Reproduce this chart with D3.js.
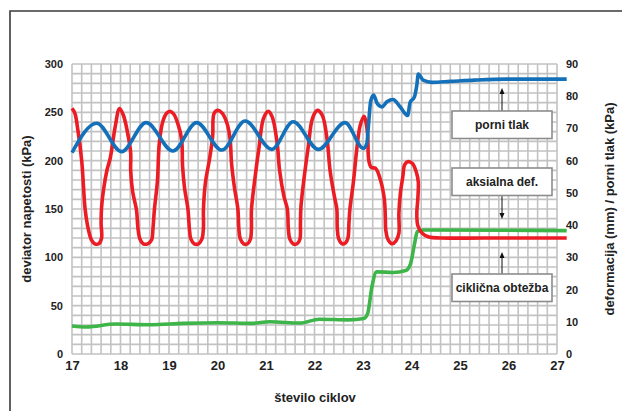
<!DOCTYPE html>
<html><head><meta charset="utf-8">
<script src="https://cdn.jsdelivr.net/npm/d3@7"></script>
<style>
html,body{margin:0;padding:0;background:#fff;}
svg{display:block;font-family:"Liberation Sans",Arial,Helvetica,sans-serif;font-weight:bold;}
</style></head><body>
<svg id="c" width="622" height="411"></svg>
<script>
// ---- data ----
const xTicks = [17,18,19,20,21,22,23,24,25,26,27];
const leftTicks = [0,50,100,150,200,250,300];
const rightTicks = [0,10,20,30,40,50,60,70,80,90];
// cyclic load / deviator stress (kPa, left axis) : [cycle, value]
const stress = [
[17.00,254],[17.06,249],[17.12,232],[17.20,200],[17.27,150],[17.32,133],[17.40,118],[17.47,114],[17.55,114],[17.61,120],[17.60,135],[17.61,152],[17.65,170],[17.72,190],[17.79,203],[17.89,235],[17.98,254],
[18.06,247],[18.16,225],[18.21,208],[18.21,190],[18.25,168],[18.33,149],[18.36,130],[18.40,119],[18.47,114],[18.56,114],[18.64,118],[18.67,130],[18.70,150],[18.76,178],[18.80,218],[18.87,240],[18.95,249],[19.02,251],
[19.10,248],[19.19,237],[19.26,222],[19.28,194],[19.32,172],[19.39,150],[19.42,130],[19.45,119],[19.52,114],[19.61,114],[19.68,119],[19.71,131],[19.71,149],[19.75,177],[19.84,203],[19.90,225],[19.93,249],[20.01,252],
[20.10,249],[20.20,238],[20.26,222],[20.29,197],[20.35,172],[20.42,150],[20.44,130],[20.47,119],[20.54,114],[20.62,114],[20.68,119],[20.70,131],[20.70,149],[20.78,185],[20.86,215],[20.95,244],[21.05,251],
[21.13,245],[21.23,218],[21.28,190],[21.37,163],[21.44,150],[21.46,130],[21.49,119],[21.56,114],[21.64,114],[21.70,119],[21.71,135],[21.72,152],[21.78,180],[21.87,214],[21.96,244],[22.06,252],
[22.16,247],[22.26,222],[22.32,190],[22.41,163],[22.46,150],[22.47,130],[22.50,119],[22.57,114],[22.64,115],[22.69,120],[22.71,135],[22.73,150],[22.80,177],[22.87,211],[22.94,236],[23.02,246],
[23.09,230],[23.12,200],[23.17,193],[23.26,192],[23.36,180],[23.44,160],[23.46,142],[23.47,128],[23.52,118],[23.60,114],[23.68,117],[23.74,125],[23.74,145],[23.77,166],[23.82,183],[23.86,196],[23.93,199],
[24.02,197],[24.10,188],[24.14,178],[24.13,160],[24.11,146],[24.13,133],[24.22,125],[24.36,121],[24.60,120],[25.50,120],[27.20,120]
];
// pore pressure (kPa, right axis)
const pore = [
[17.00,62.5],[17.51,71.6],[18.02,62.8],[18.53,71.8],[19.08,63.0],[19.57,71.8],[20.09,63.3],[20.57,72.3],
[21.12,63.5],[21.56,72.1],[22.08,63.5],[22.63,71.8],[23.01,63.8],[23.08,65.4],[23.11,70.5],[23.16,78.6],
[23.22,80.4],[23.29,77.8],[23.39,76.7],[23.50,78.4],[23.62,79.0],[23.76,76.8],[23.92,74.0],[23.97,78.0],
[24.06,79.8],[24.11,83.5],[24.14,86.9],[24.24,85.0],[24.42,84.3],[24.80,84.6],[25.30,85.0],[25.95,85.3],[27.20,85.3]
];
// axial deformation (mm, right axis)
const deform = [
[17.00,8.7],[17.30,8.4],[17.90,9.3],[18.60,9.1],[19.30,9.5],[20.00,9.7],[20.70,9.5],[21.08,10.0],[21.70,9.6],
[22.10,10.8],[22.70,10.6],[23.02,11.0],[23.10,12.8],[23.18,20.5],[23.28,25.5],[23.62,25.3],[23.88,25.9],
[23.98,28.0],[24.06,34.0],[24.12,38.0],[24.24,38.5],[27.20,38.3]
];
const labels = ["porni tlak","aksialna def.","ciklična obtežba"];

// ---- layout ----
const svg = d3.select("#c");
const L=72, R=557, T=64, B=354;
const x = d3.scaleLinear().domain([17,27]).range([L,R]);
const yL = d3.scaleLinear().domain([0,300]).range([B,T]);
const yR = d3.scaleLinear().domain([0,90]).range([B,T]);

// frame
svg.append("path").attr("d",`M10,420 L10,11 L630,11`).attr("fill","none").attr("stroke","#3a3a3a").attr("stroke-width",1.6);

// grid
const g = svg.append("g").attr("stroke","#c2c2c2").attr("stroke-width",1.6);
g.selectAll("line.v").data(d3.range(0,51).map(i=>17+i*0.2)).enter().append("line")
 .attr("x1",d=>x(d)).attr("x2",d=>x(d)).attr("y1",T).attr("y2",B);
g.selectAll("line.h").data(d3.range(0,31).map(i=>i*10)).enter().append("line")
 .attr("y1",d=>yL(d)).attr("y2",d=>yL(d)).attr("x1",L).attr("x2",R);

// axes (labels only)
function styleAxis(sel,size){
  sel.select(".domain").remove();
  sel.selectAll(".tick line").remove();
  sel.selectAll("text").attr("fill","#222").style("font-size",size+"px").style("font-weight","bold")
     .style("font-family",'"Liberation Sans",Arial,sans-serif');
}
svg.append("g").attr("transform",`translate(${L-9},0)`)
  .call(d3.axisLeft(yL).tickValues(leftTicks).tickSize(0).tickPadding(0)).call(s=>styleAxis(s,11));
svg.append("g").attr("transform",`translate(${R+9},0)`)
  .call(d3.axisRight(yR).tickValues(rightTicks).tickSize(0).tickPadding(0)).call(s=>styleAxis(s,11));
svg.append("g").attr("transform",`translate(0,${B+7})`)
  .call(d3.axisBottom(x).tickValues(xTicks).tickSize(0).tickPadding(0).tickFormat(d3.format("d"))).call(s=>styleAxis(s,13));

// titles
svg.append("text").attr("x",315).attr("y",401.5).attr("text-anchor","middle").attr("fill","#222")
  .style("font-size","13px").text("število ciklov");
svg.append("text").attr("transform","translate(31,209) rotate(-90)").attr("text-anchor","middle").attr("fill","#222")
  .style("font-size","13px").text("deviator napetosti (kPa)");
svg.append("text").attr("transform","translate(614,209) rotate(-90)").attr("text-anchor","middle").attr("fill","#222")
  .style("font-size","13px").text("deformacija (mm) / porni tlak (kPa)");

// lines
const lineL = d3.line().x(d=>x(d[0])).y(d=>yL(d[1])).curve(d3.curveCatmullRom.alpha(0.5));
const lineR = d3.line().x(d=>x(d[0])).y(d=>yR(d[1])).curve(d3.curveMonotoneX);
svg.append("path").datum(deform).attr("d",lineR).attr("fill","none").attr("stroke","#3db549").attr("stroke-width",3.6).attr("stroke-linejoin","round");
svg.append("path").datum(stress).attr("d",lineL).attr("fill","none").attr("stroke","#ec1c24").attr("stroke-width",3.6).attr("stroke-linejoin","round");
svg.append("path").datum(pore).attr("d",lineR).attr("fill","none").attr("stroke","#1471b9").attr("stroke-width",3.6).attr("stroke-linejoin","round");

// legend boxes & arrows
const boxes = [{y:111,a0:111,a1:88},{y:168,a0:196,a1:219},{y:274,a0:274,a1:252}];
const ax = 502;
boxes.forEach((b,i)=>{
  svg.append("line").attr("x1",ax).attr("x2",ax).attr("y1",b.a0).attr("y2",b.a1+(b.a1<b.a0?4:-4)).attr("stroke","#111").attr("stroke-width",1);
  const dir = b.a1<b.a0?1:-1;
  svg.append("path").attr("d",`M${ax},${b.a1} L${ax-2.5},${b.a1+6*dir} L${ax+2.5},${b.a1+6*dir} Z`).attr("fill","#111");
  svg.append("rect").attr("x",452).attr("y",b.y).attr("width",100).attr("height",27.5)
    .attr("fill","#fff").attr("stroke","#8c8c8c").attr("stroke-width",1.6);
  svg.append("text").attr("x",502).attr("y",b.y+18).attr("text-anchor","middle").attr("fill","#222")
    .style("font-size","12px").text(labels[i]);
});
</script>
</body></html>
